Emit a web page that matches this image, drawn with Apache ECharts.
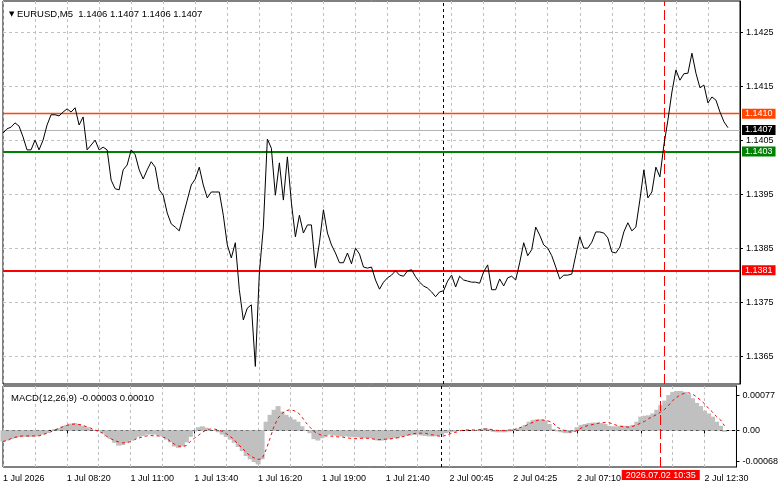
<!DOCTYPE html>
<html>
<head>
<meta charset="utf-8">
<title>EURUSD,M5</title>
<script src="https://cdn.jsdelivr.net/npm/echarts@6/dist/echarts.min.js"></script>
<style>
  html, body { margin: 0; padding: 0; background: #fff; }
  #chart { width: 781px; height: 489px; }
</style>
</head>
<body>
<div id="chart"></div>
<script>
// EURUSD M5, one close every 10 minutes (two bars)
const closes = [
  1.14064, 1.14072, 1.14075, 1.14083, 1.14077, 1.14057, 1.14033, 1.14033, 1.14051, 1.14033,
  1.14051, 1.14079, 1.14098, 1.14098, 1.14096, 1.14103, 1.14109, 1.14103, 1.14111, 1.14079,
  1.14094, 1.14033, 1.14042, 1.14051, 1.14033, 1.14038, 1.14033, 1.13977, 1.13961, 1.13959,
  1.13996, 1.14005, 1.14033, 1.14024, 1.13996, 1.13979, 1.13996, 1.14011, 1.14001, 1.13959,
  1.13949, 1.13916, 1.13896, 1.13890, 1.13883, 1.13912, 1.13940, 1.13968, 1.13979, 1.14001,
  1.13968, 1.13944, 1.13955, 1.13955, 1.13955, 1.13912, 1.13857, 1.13833, 1.13861, 1.13774,
  1.13718, 1.13740, 1.13746, 1.13632, 1.13805, 1.13890, 1.14053, 1.14036, 1.13949, 1.14009,
  1.13940, 1.14020, 1.13935, 1.13872, 1.13912, 1.13879, 1.13894, 1.13894, 1.13814, 1.13861,
  1.13922, 1.13879, 1.13857, 1.13842, 1.13824, 1.13824, 1.13842, 1.13822, 1.13851, 1.13840,
  1.13816, 1.13814, 1.13816, 1.13792, 1.13775, 1.13788, 1.13796, 1.13801, 1.13809, 1.13801,
  1.13799, 1.13809, 1.13811, 1.13798, 1.13788, 1.13781, 1.13777, 1.13770, 1.13761, 1.13770,
  1.13772, 1.13790, 1.13801, 1.13779, 1.13799, 1.13792, 1.13790, 1.13788, 1.13788, 1.13786,
  1.13807, 1.13820, 1.13774, 1.13774, 1.13794, 1.13781, 1.13796, 1.13799, 1.13792, 1.13824,
  1.13861, 1.13837, 1.13848, 1.13890, 1.13875, 1.13857, 1.13851, 1.13837, 1.13816, 1.13794,
  1.13801, 1.13801, 1.13803, 1.13838, 1.13872, 1.13851, 1.13851, 1.13862, 1.13881, 1.13881,
  1.13879, 1.13870, 1.13844, 1.13842, 1.13853, 1.13881, 1.13898, 1.13883, 1.13890, 1.13940,
  1.13996, 1.13944, 1.13955, 1.14001, 1.13983, 1.14042, 1.14088, 1.14140, 1.14181, 1.14162,
  1.14174, 1.14175, 1.14212, 1.14175, 1.14148, 1.14153, 1.14120, 1.14131, 1.14125, 1.14103,
  1.14085, 1.14074
];

// MACD(12,26,9), values in units of 0.00001
const macdHist = [
  -24, -22, -19, -17, -15, -14, -14, -14, -13, -12,
  -9, -6, 0, 3, 5, 9, 12, 15, 16, 14,
  10, 7, 3, 0, -2, -6, -13, -19, -27, -33,
  -32, -27, -22, -19, -14, -12, -9, -9, -9, -11,
  -13, -20, -26, -35, -38, -35, -26, -14, -2, 7,
  9, 6, 1, 0, -4, -9, -14, -20, -27, -36,
  -45, -56, -63, -69, -74, -63, 19, 34, 45, 53,
  41, 34, 29, 24, 19, 9, 1, -6, -19, -22,
  -17, -11, -9, -11, -12, -13, -13, -14, -15, -15,
  -17, -17, -17, -19, -22, -22, -20, -19, -17, -17,
  -13, -12, -11, -10, -9, -11, -12, -13, -13, -12,
  -10, -6, -4, -3, -1, 0, 0, 0, 1, 1,
  3, 5, 3, -3, -4, -4, -4, -2, 3, 4,
  7, 12, 19, 23, 24, 24, 22, 14, 3, -2,
  -4, -6, -6, -3, 7, 12, 14, 16, 17, 17,
  16, 14, 10, 9, 9, 10, 10, 10, 12, 19,
  30, 32, 33, 37, 45, 55, 65, 77, 84, 86,
  86, 84, 79, 70, 60, 53, 43, 37, 30, 19,
  10, -3
];
const macdSignal = [
  -24, -22, -18, -15, -13, -12, -12, -12, -12, -12,
  -9, -6, -3, 1, 4, 8, 11, 13, 14, 13,
  11, 8, 5, 1, -2, -6, -13, -18, -22, -25,
  -27, -27, -24, -20, -17, -14, -12, -11, -12, -12,
  -14, -17, -24, -30, -34, -35, -33, -24, -17, -11,
  -4, 1, 3, 3, 1, -2, -7, -13, -20, -31,
  -38, -48, -55, -60, -63, -62, -42, -17, 9, 27,
  37, 43, 45, 43, 39, 29, 17, 7, -2, -7,
  -11, -12, -12, -13, -14, -14, -16, -17, -18, -18,
  -17, -17, -17, -19, -20, -20, -19, -19, -17, -16,
  -14, -12, -9, -7, -6, -6, -6, -9, -10, -12,
  -13, -11, -8, -5, -3, 0, 1, 1, 1, 1,
  2, 3, 3, 1, 0, 0, 0, 1, 1, 4,
  7, 10, 14, 18, 22, 23, 22, 20, 16, 7,
  3, -1, -3, -4, 0, 5, 9, 11, 13, 15,
  17, 17, 17, 14, 11, 9, 8, 7, 9, 12,
  16, 20, 26, 30, 35, 40, 46, 55, 65, 72,
  78, 81, 82, 79, 73, 66, 58, 48, 40, 30,
  23, 10
];

const timeLabels = [
  '1 Jul 2026', '1 Jul 08:20', '1 Jul 11:00', '1 Jul 13:40', '1 Jul 16:20', '1 Jul 19:00',
  '1 Jul 21:40', '2 Jul 00:45', '2 Jul 04:25', '2 Jul 07:10', '2 Jul 10:35', '2 Jul 12:30'
];
const priceTicks = [1.1365, 1.1375, 1.1385, 1.1395, 1.1405, 1.1415, 1.1425];
const macdTicks = [-68, 0, 77];

const levelHigh = 1.1410;
const levelMid = 1.1403;
const levelLow = 1.1381;
const bid = 1.1407;
const dayBreak = 110;
const cursorAt = 165;
const cursorLabel = '2026.07.02 10:35';

const slotCount = 185;
const labelEvery = 16;

const font = 'Liberation Sans';
const gridGray = '#c0c0c0';
const orange = '#ff4500';

const slots = [];
for (let i = 0; i < slotCount; i++) slots.push(i);

function levelLabel (value, bg) {
  return {
    show: true,
    position: 'end',
    distance: 2,
    formatter: value.toFixed(4),
    color: '#fff',
    backgroundColor: bg,
    padding: [1, 3, 0, 3],
    fontFamily: font,
    fontSize: 9
  }
}

function levelLine (value, color, width, bg) {
  return {
    yAxis: value,
    lineStyle: { color: color, width: width, type: 'solid' },
    label: levelLabel(value, bg)
  }
}

// horizontal price grid at the labelled levels
const priceGrid = priceTicks.map(p => ({
  yAxis: p,
  lineStyle: { color: gridGray, width: 1, type: [3, 3] },
  label: { show: false }
}))

const chart = echarts.init(document.getElementById('chart'))

const option = {
  animation: false,
  textStyle: { fontFamily: font },
  title: [
    {
      text: '{tri|▼} EURUSD,M5  1.1406 1.1407 1.1406 1.1407',
      left: 4,
      top: 4,
      textStyle: {
        fontFamily: font,
        fontSize: 9.5,
        fontWeight: 'normal',
        color: '#000',
        rich: { tri: { fontFamily: 'DejaVu Sans', fontSize: 7, color: '#000' } }
      }
    },
    {
      text: 'MACD(12,26,9) -0.00003 0.00010',
      left: 6,
      top: 388,
      textStyle: { fontFamily: font, fontSize: 9.5, fontWeight: 'normal', color: '#000' }
    }
  ],
  grid: [
    { left: 3, right: 41, top: 1, height: 383, show: true, borderColor: '#000', borderWidth: 1 },
    { left: 3, right: 41, top: 386, height: 81, show: true, borderColor: '#000', borderWidth: 1 }
  ],
  xAxis: [
    {
      type: 'category',
      gridIndex: 0,
      data: slots,
      boundaryGap: false,
      axisLine: { show: false },
      axisTick: { show: false },
      axisLabel: { show: false },
      splitLine: { show: true, interval: 7, lineStyle: { color: gridGray, type: [3, 3] } }
    },
    {
      type: 'category',
      gridIndex: 1,
      data: slots,
      boundaryGap: false,
      axisLine: { show: true, lineStyle: { color: '#000' } },
      axisTick: { show: true, interval: labelEvery - 1, length: 3, lineStyle: { color: '#000' } },
      axisLabel: {
        interval: labelEvery - 1,
        align: 'left',
        margin: 7,
        fontFamily: font,
        fontSize: 9,
        color: '#000',
        // the tick under the cursor box is hidden, like in the terminal
        formatter: (v, i) => Math.abs(i - cursorAt) < 10 ? '' : (timeLabels[i / labelEvery] || '')
      },
      splitLine: { show: true, interval: 7, lineStyle: { color: gridGray, type: [3, 3] } }
    }
  ],
  yAxis: [
    {
      type: 'value',
      gridIndex: 0,
      position: 'right',
      min: 1.135994,
      max: 1.143087,
      axisLine: { show: true, lineStyle: { color: '#000' } },
      axisTick: { show: true, length: 3, customValues: priceTicks, lineStyle: { color: '#000' } },
      axisLabel: {
        customValues: priceTicks,
        margin: 6,
        fontFamily: font,
        fontSize: 9,
        color: '#000',
        formatter: v => v.toFixed(4)
      },
      splitLine: { show: false }
    },
    {
      type: 'value',
      gridIndex: 1,
      position: 'right',
      min: -79.7,
      max: 96.8,
      axisLine: { show: true, lineStyle: { color: '#000' } },
      axisTick: { show: true, length: 3, customValues: macdTicks, lineStyle: { color: '#000' } },
      axisLabel: {
        customValues: macdTicks,
        margin: 6,
        fontFamily: font,
        fontSize: 9,
        color: '#000',
        formatter: v => v === 0 ? '0.00' : (v / 1e5).toFixed(5)
      },
      splitLine: { show: false }
    }
  ],
  series: [
    {
      name: 'grid',
      type: 'line',
      xAxisIndex: 0,
      yAxisIndex: 0,
      data: [],
      z: 1,
      markLine: { symbol: 'none', silent: true, precision: 5, data: priceGrid }
    },
    {
      name: 'EURUSD',
      type: 'line',
      xAxisIndex: 0,
      yAxisIndex: 0,
      data: closes,
      symbol: 'none',
      lineStyle: { color: '#000', width: 1 },
      z: 5,
      markLine: {
        symbol: 'none',
        silent: true,
        precision: 5,
        data: [
          levelLine(bid, '#b4b4b4', 1, '#000'),
          levelLine(levelHigh, orange, 1.4, orange),
          levelLine(levelMid, '#008000', 2, '#008000'),
          levelLine(levelLow, '#ff0000', 2, '#ff0000'),
          { xAxis: dayBreak, lineStyle: { color: '#000', width: 1, type: [3, 3] }, label: { show: false } },
          { xAxis: cursorAt, lineStyle: { color: '#ff0000', width: 1, type: [10, 4] }, label: { show: false } }
        ]
      }
    },
    {
      name: 'MACD',
      type: 'bar',
      xAxisIndex: 1,
      yAxisIndex: 1,
      data: macdHist,
      barWidth: 5,
      itemStyle: { color: gridGray },
      markLine: {
        symbol: 'none',
        silent: true,
        data: [
          { yAxis: 0, lineStyle: { color: gridGray, width: 1, type: [3, 3] }, label: { show: false } },
          { xAxis: dayBreak, lineStyle: { color: '#000', width: 1, type: [3, 3] }, label: { show: false } },
          {
            xAxis: cursorAt,
            lineStyle: { color: '#ff0000', width: 1, type: [10, 4] },
            label: {
              show: true,
              position: 'start',
              distance: 3,
              formatter: cursorLabel,
              color: '#fff',
              backgroundColor: '#ff0000',
              padding: [1, 4, 0, 4],
              fontFamily: font,
              fontSize: 9
            }
          }
        ]
      }
    },
    {
      name: 'Signal',
      type: 'line',
      xAxisIndex: 1,
      yAxisIndex: 1,
      data: macdSignal,
      symbol: 'none',
      lineStyle: { color: '#ff0000', width: 1, type: [3, 3] },
      z: 5
    }
  ]
}

chart.setOption(option)
</script>
</body>
</html>
